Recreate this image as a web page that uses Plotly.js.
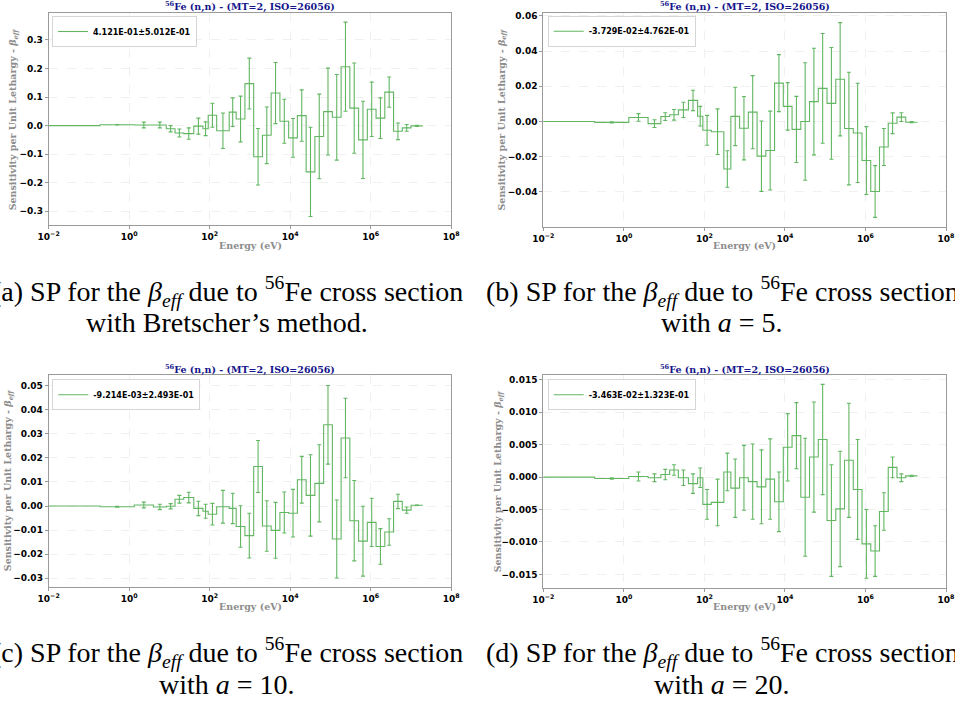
<!DOCTYPE html>
<html>
<head>
<meta charset="utf-8">
<script src="https://cdn.plot.ly/plotly-3.0.1.min.js"></script>
<style>html,body{margin:0;padding:0;background:#fff;}#chart{width:955px;height:704px;}</style>
</head>
<body>
<div id="chart"></div>
<script>
// ECCO-like 33-group energy boundaries (eV)
const edges = [1e-5, 0.189, 1.33, 4.0, 8.315, 13.71, 22.6, 40.17, 67.9, 91.66, 148.6, 304.3, 454.0, 748.5, 1234, 2035, 3355, 5531, 9119, 15030, 24790, 40870, 67380, 111100, 183200, 302000, 497900, 820900, 1353000, 2231000, 3679000, 6065000, 1.0e7, 1.964e7];

// (a) Bretscher's method
const sensA = [0, 0.003, 0.002, 0.002, -0.011, -0.026, -0.028, -0.002, -0.011, 0.036, -0.018, 0.047, 0.023, 0.147, -0.109, -0.034, 0.114, 0.015, -0.043, 0.035, -0.162, -0.038, 0.049, 0.029, 0.206, 0.061, -0.050, 0.057, 0.026, 0.117, -0.020, -0.008, -0.001];
const errA  = [0, 0.001, 0.010, 0.010, 0.011, 0.014, 0.020, 0.028, 0.024, 0.042, 0.062, 0.050, 0.080, 0.089, 0.099, 0.099, 0.107, 0.077, 0.068, 0.090, 0.156, 0.148, 0.152, 0.150, 0.156, 0.158, 0.135, 0.095, 0.071, 0.053, 0.029, 0.012, 0.002];
// (b) a = 5
const sensB = [0, -0.0005, 0.0023, -0.0012, 0.0028, 0.0038, 0.0066, 0.0120, 0.0030, -0.0050, -0.0058, -0.0270, 0.0029, -0.0038, 0.0053, -0.0197, -0.0165, 0.0218, 0.0086, -0.0045, 0.0000, 0.0113, 0.0188, 0.0103, 0.0240, -0.0040, -0.0065, -0.0222, -0.0398, -0.0145, -0.0010, 0.0025, -0.0004];
const errB  = [0, 0.0003, 0.0022, 0.0022, 0.0022, 0.0030, 0.0043, 0.0058, 0.0056, 0.0085, 0.0130, 0.0104, 0.0166, 0.0180, 0.0208, 0.0200, 0.0224, 0.0162, 0.0135, 0.0188, 0.0334, 0.0303, 0.0312, 0.0318, 0.0322, 0.0320, 0.0282, 0.0193, 0.0147, 0.0105, 0.0059, 0.0025, 0.0003];
// (c) a = 10
const sensC = [0, -0.0003, 0.0004, -0.0004, -0.0001, 0.0028, 0.0035, -0.0010, -0.0022, -0.0034, -0.0003, -0.0010, -0.0085, -0.0123, 0.0164, -0.0083, -0.0101, -0.0027, -0.0030, 0.0109, 0.0044, 0.0094, 0.0337, -0.0137, 0.0282, -0.0061, -0.0146, -0.0068, -0.0168, -0.0108, 0.0019, -0.0017, 0.0003];
const errC  = [0, 0.0002, 0.0012, 0.0011, 0.0011, 0.0016, 0.0022, 0.0030, 0.0029, 0.0045, 0.0068, 0.0063, 0.0086, 0.0093, 0.0108, 0.0105, 0.0116, 0.0085, 0.0099, 0.0097, 0.0169, 0.0160, 0.0163, 0.0162, 0.0165, 0.0167, 0.0145, 0.0100, 0.0074, 0.0055, 0.0030, 0.0013, 0.0001];
// (d) a = 20
const sensD = [0, -0.0002, 0.0001, -0.0001, 0.0004, 0.0011, -0.0001, -0.0010, -0.0001, -0.0042, -0.0039, 0.0008, -0.0017, -0.0001, -0.0007, -0.0015, -0.0003, -0.0038, 0.0046, 0.0064, -0.0031, 0.0031, 0.0058, -0.0067, -0.0049, 0.0026, -0.0019, -0.0103, -0.0114, -0.0053, 0.0015, -0.0001, 0.0002];
const errD  = [0, 0.0001, 0.0007, 0.0006, 0.0008, 0.0008, 0.0012, 0.0015, 0.0015, 0.0023, 0.0036, 0.0029, 0.0045, 0.0050, 0.0058, 0.0057, 0.0062, 0.0046, 0.0052, 0.0051, 0.0091, 0.0085, 0.0085, 0.0086, 0.0089, 0.0088, 0.0077, 0.0053, 0.0039, 0.0029, 0.0016, 0.0006, 0.0001];

const legendLabels = ['4.121E-01±5.012E-01', '-3.729E-02±4.762E-01', '-9.214E-03±2.493E-01', '-3.463E-02±1.323E-01'];
const xTickVals = [1e-2, 1e0, 1e2, 1e4, 1e6, 1e8];
const xTickText = ['10<sup>−2</sup>', '10<sup>0</sup>', '10<sup>2</sup>', '10<sup>4</sup>', '10<sup>6</sup>', '10<sup>8</sup>'];
const plotTitle = '<sup>56</sup>Fe (n,n) - (MT=2, ISO=26056)';
const xTitle = 'Energy (eV)';
const yTitle = 'Sensitivity per Unit Lethargy - <i>β<sub>eff</sub></i>';
const captions = [
  ['(a) SP for the <i>β<sub>eff</sub></i> due to <sup>56</sup>Fe cross section', 'with Bretscher’s method.'],
  ['(b) SP for the <i>β<sub>eff</sub></i> due to <sup>56</sup>Fe cross section', 'with <i>a</i> = 5.'],
  ['(c) SP for the <i>β<sub>eff</sub></i> due to <sup>56</sup>Fe cross section', 'with <i>a</i> = 10.'],
  ['(d) SP for the <i>β<sub>eff</sub></i> due to <sup>56</sup>Fe cross section', 'with <i>a</i> = 20.']
];

const series = [[sensA, errA], [sensB, errB], [sensC, errC], [sensD, errD]];
const centers = edges.slice(0, -1).map((e, i) => Math.sqrt(e * edges[i + 1]));

// layout geometry (pixels)
const W = 955, H = 704;
const px = x => x / W, py = y => 1 - y / H;
const panels = [
  {x0: 48.7, x1: 451.3, y0: 13.3, y1: 225.3, range: [-0.349, 0.393], dtick: 0.1, fmt: '.1f', leg: [52, 16], ytx: 13, title: 7, xt: 245},
  {x0: 543.3, x1: 946, y0: 13.3, y1: 226.7, range: [-0.0598, 0.0615], dtick: 0.02, fmt: '.2f', leg: [547.7, 15.7], ytx: 502.5, title: 7, xt: 245},
  {x0: 48.7, x1: 451.3, y0: 374.7, y1: 586.7, range: [-0.0335, 0.0545], dtick: 0.01, fmt: '.2f', leg: [52.3, 379.3], ytx: 8.5, title: 369, xt: 606.5},
  {x0: 543.3, x1: 946, y0: 374.7, y1: 588, range: [-0.0171, 0.0158], dtick: 0.005, fmt: '.3f', leg: [547.7, 379.3], ytx: 498, title: 369, xt: 606.5}
];
const capPos = [[227, 291, 323], [722, 291, 323], [227, 652, 684], [722, 652, 684]];

const green = 'rgb(98,182,98)';
const serif = '"Liberation Serif", Tinos, "Times New Roman", Times, "DejaVu Serif", serif';
const tickFont = {family: 'DejaVu Sans', size: 9, color: '#000', weight: 'bold'};
const traces = [];
const layout = {
  width: W, height: H, margin: {l: 0, r: 0, t: 0, b: 0},
  paper_bgcolor: '#fff', plot_bgcolor: '#fff', showlegend: true,
  annotations: []
};

panels.forEach((p, k) => {
  const sfx = k === 0 ? '' : String(k + 1);
  const [vals, errs] = series[k];
  const legName = 'legend' + (k + 2);
  traces.push({
    type: 'scatter', mode: 'lines', x: edges, y: vals.concat([vals[vals.length - 1]]),
    line: {shape: 'hv', color: green, width: 1.1},
    xaxis: 'x' + sfx, yaxis: 'y' + sfx, name: legendLabels[k], legend: legName, hoverinfo: 'skip'
  });
  traces.push({
    type: 'scatter', mode: 'markers', x: centers, y: vals,
    marker: {size: 1, color: 'rgba(0,0,0,0)'},
    error_y: {type: 'data', array: errs, visible: true, color: green, thickness: 1.1, width: 2},
    xaxis: 'x' + sfx, yaxis: 'y' + sfx, showlegend: false, legend: legName, hoverinfo: 'skip'
  });
  layout['xaxis' + sfx] = {
    type: 'log', range: [-2, 8], domain: [px(p.x0), px(p.x1)], anchor: 'y' + sfx,
    tickmode: 'array', tickvals: xTickVals, ticktext: xTickText, tickfont: tickFont,
    showgrid: true, gridcolor: '#ececec', griddash: 'dash', gridwidth: 0.8,
    showline: true, mirror: true, linecolor: '#9a9a9a', linewidth: 1,
    ticks: 'outside', ticklen: 3, tickcolor: '#9a9a9a', zeroline: false
  };
  layout['yaxis' + sfx] = {
    range: p.range, domain: [py(p.y1), py(p.y0)], anchor: 'x' + sfx,
    dtick: p.dtick, tick0: 0, tickformat: p.fmt, tickfont: tickFont,
    showgrid: true, gridcolor: '#ececec', griddash: 'dash', gridwidth: 0.8,
    showline: true, mirror: true, linecolor: '#9a9a9a', linewidth: 1,
    ticks: 'outside', ticklen: 3, tickcolor: '#9a9a9a', zeroline: false
  };
  layout[legName] = {
    x: px(p.leg[0]), y: py(p.leg[1]), xanchor: 'left', yanchor: 'top',
    bgcolor: '#fff', bordercolor: '#d6d6d6', borderwidth: 1,
    font: {family: 'DejaVu Sans', size: 8, color: '#000', weight: 'bold'},
    itemwidth: 30, tracegroupgap: 0
  };
  const cx = (p.x0 + p.x1) / 2, cy = (p.y0 + p.y1) / 2;
  layout.annotations.push(
    {text: plotTitle, x: px(cx), y: py(p.title), xref: 'paper', yref: 'paper', showarrow: false, xanchor: 'center', yanchor: 'middle',
     font: {family: 'DejaVu Serif', size: 9.5, color: '#14148c', weight: 'bold'}},
    {text: xTitle, x: px(cx), y: py(p.xt), xref: 'paper', yref: 'paper', showarrow: false, xanchor: 'center', yanchor: 'middle',
     font: {family: 'DejaVu Serif', size: 9.5, color: '#8c8c8c', weight: 'bold'}},
    {text: yTitle, x: px(p.ytx), y: py(cy), xref: 'paper', yref: 'paper', showarrow: false, xanchor: 'center', yanchor: 'middle', textangle: -90,
     font: {family: 'DejaVu Serif', size: 9.5, color: '#8c8c8c', weight: 'bold'}}
  );
  const c = capPos[k];
  layout.annotations.push(
    {text: captions[k][0], x: px(c[0]), y: py(c[1]), xref: 'paper', yref: 'paper', showarrow: false, xanchor: 'center', yanchor: 'middle',
     font: {family: serif, size: 28, color: '#000'}},
    {text: captions[k][1], x: px(c[0]), y: py(c[2]), xref: 'paper', yref: 'paper', showarrow: false, xanchor: 'center', yanchor: 'middle',
     font: {family: serif, size: 28, color: '#000'}}
  );
});

Plotly.newPlot('chart', traces, layout, {staticPlot: true, displayModeBar: false});
</script>
</body>
</html>
